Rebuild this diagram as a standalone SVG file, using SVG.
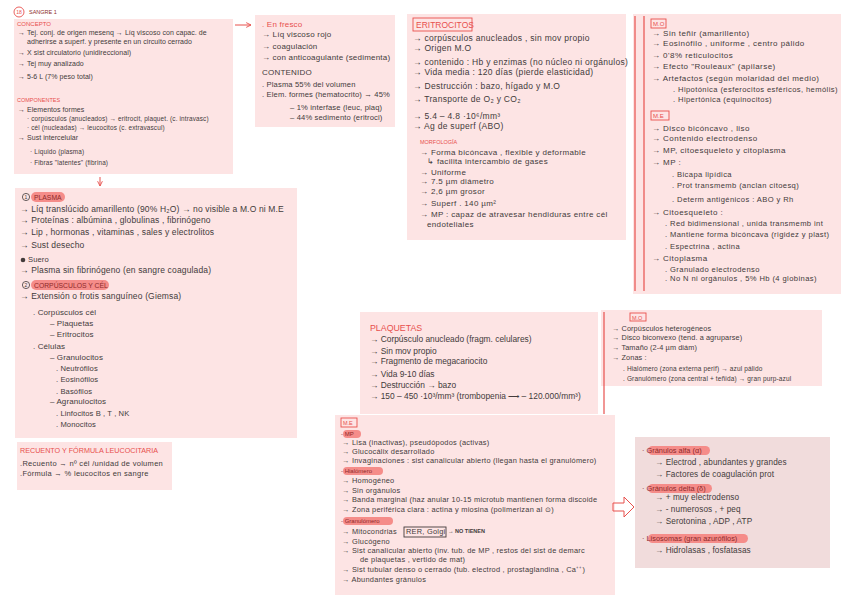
<svg xmlns="http://www.w3.org/2000/svg" width="848" height="600" viewBox="0 0 848 600">
<defs>
<style>
.box{fill:#fde4e4}
.boxj{fill:#f1dcdc}
text{font-family:"Liberation Sans",Arial,sans-serif;fill:#433b3b}
.r{fill:#e8504d}
.dr{fill:#8e2a2a}
.lbl{fill:none;stroke:#e8504d;stroke-width:0.9}
.lbk{fill:none;stroke:#433b3b;stroke-width:0.9}
.pill{fill:#f58c89}
.vl{stroke:#e8504d;stroke-width:1.2}
.a1{font-size:7px;letter-spacing:0.05px}
.a2{font-size:6.4px;letter-spacing:0.15px}
.b1{font-size:8px;letter-spacing:0.2px}
.b2{font-size:7.6px;letter-spacing:0.15px}
.c1{font-size:8.5px;letter-spacing:0.3px}
.c2{font-size:8px;letter-spacing:0.35px}
.d1{font-size:8px;letter-spacing:0.45px}
.d2{font-size:7.6px;letter-spacing:0.4px}
.e1{font-size:8.5px;letter-spacing:0.15px}
.e2{font-size:8px;letter-spacing:0.1px}
.e3{font-size:7.6px;letter-spacing:0.1px}
.f1{font-size:7.5px;letter-spacing:0.3px}
.g1{font-size:8.4px}
.h1{font-size:7.3px;letter-spacing:0.1px}
.h2{font-size:6.5px;letter-spacing:0.15px}
.i1{font-size:7.4px;letter-spacing:0.25px}
.j1{font-size:8.2px;letter-spacing:0.1px}
.f6{font-size:6px}
.f55{font-size:5.5px}
.con{stroke:#e8504d;stroke-width:1;fill:none}
</style>
<marker id="ah" viewBox="0 0 10 10" refX="9" refY="5" markerWidth="6" markerHeight="6" orient="auto">
<path d="M1,1 L9,5 L1,9" fill="none" stroke="#e8504d" stroke-width="1.5"/>
</marker>
</defs>
<rect width="848" height="600" fill="#ffffff"/>

<g id="n-title">
<circle cx="19" cy="12" r="5" fill="none" stroke="#e8504d" stroke-width="0.9"/>
<text x="19" y="14" class="r" font-size="5" text-anchor="middle">18</text>
<text x="29" y="14" class="dr" font-size="5.5">SANGRE 1</text>
</g>

<g id="n-concepto">
<rect class="box" x="14" y="19" width="219" height="155"/>
<text x="17" y="26" class="r" font-size="6">CONCEPTO</text>
<text class="a1" x="18" y="35">→ Tej. conj. de origen mesenq → Líq viscoso con capac. de</text>
<text class="a1" x="27" y="44">adherirse a superf. y presente en un circuito cerrado</text>
<text class="a1" x="18" y="55">→ X sist circulatorio (unidireccional)</text>
<text class="a1" x="18" y="66">→ Tej muy analizado</text>
<text class="a1" x="18" y="79">→ 5-6 L (7% peso total)</text>
<text x="17" y="102" class="r f55">COMPONENTES</text>
<text class="a1" x="18" y="112">→ Elementos formes</text>
<text class="a2" x="27" y="121">· corpúsculos (anucleados) → eritrocit, plaquet. (c. intravasc)</text>
<text class="a2" x="27" y="130">· cél (nucleadas) → leucocitos (c. extravascul)</text>
<text class="a1" x="18" y="140">→ Sust intercelular</text>
<text class="a2" x="30" y="154">· Líquido (plasma)</text>
<text class="a2" x="30" y="165">· Fibras "latentes" (fibrina)</text>
</g>

<g id="n-fresco">
<rect class="box" x="255" y="15" width="140" height="112"/>
<text x="262" y="27" class="r b1">. En fresco</text>
<text class="b1" x="262" y="37">→ Líq viscoso rojo</text>
<text class="b1" x="262" y="49">→ coagulación</text>
<text class="b1" x="262" y="60">→ con anticoagulante (sedimenta)</text>
<text class="b1" x="262" y="75">CONTENIDO</text>
<text class="b2" x="262" y="87">. Plasma 55% del volumen</text>
<text class="b2" x="262" y="97">. Elem. formes (hematocrito) → 45%</text>
<text class="b2" x="290" y="110">– 1% interfase (leuc, plaq)</text>
<text class="b2" x="290" y="120">– 44% sedimento (eritroci)</text>
</g>

<g id="n-eritrocitos">
<rect class="box" x="407" y="14" width="219" height="226"/>
<rect class="lbl" x="413" y="18" width="59" height="13"/>
<text x="416" y="28" class="r" font-size="8.5">ERITROCITOS</text>
<text class="c1" x="413" y="41">→ corpúsculos anucleados , sin mov propio</text>
<text class="c1" x="413" y="51">→ Origen M.O</text>
<text class="c1" x="413" y="65">→ contenido : Hb y enzimas (no núcleo ni orgánulos)</text>
<text class="c1" x="413" y="75">→ Vida media : 120 días (pierde elasticidad)</text>
<text class="c1" x="413" y="89">→ Destrucción : bazo, hígado y M.O</text>
<text class="c1" x="413" y="102">→ Transporte de O₂ y CO₂</text>
<text class="c1" x="413" y="119">→ 5.4 – 4.8 ·10⁶/mm³</text>
<text class="c1" x="413" y="129">→ Ag de superf (ABO)</text>
<text x="420" y="144" class="r f55">MORFOLOGÍA</text>
<text class="c2" x="420" y="155">→ Forma bicóncava , flexible y deformable</text>
<text class="c2" x="427" y="164">↳ facilita intercambio de gases</text>
<text class="c2" x="420" y="175">→ Uniforme</text>
<text class="c2" x="420" y="184">→ 7.5 µm diámetro</text>
<text class="c2" x="420" y="194">→ 2,6 µm grosor</text>
<text class="c2" x="420" y="206">→ Superf . 140 µm²</text>
<text class="c2" x="420" y="217">→ MP : capaz de atravesar hendiduras entre cél</text>
<text class="c2" x="427" y="227">endoteliales</text>
</g>

<g id="n-eritro-micro">
<rect class="box" x="633" y="14" width="208" height="280"/>
<line class="vl" x1="635" y1="16" x2="635" y2="291"/>
<line class="vl" x1="644" y1="16" x2="644" y2="291"/>
<rect class="lbl" x="651" y="19" width="15" height="9"/>
<text x="653" y="26" class="r f6">M.O</text>
<text class="d1" x="652" y="36">→ Sin teñir (amarillento)</text>
<text class="d1" x="652" y="46">→ Eosinófilo , uniforme , centro pálido</text>
<text class="d1" x="652" y="58">→ 0'8% reticulocitos</text>
<text class="d1" x="652" y="69">→ Efecto "Rouleaux" (apilarse)</text>
<text class="d1" x="652" y="81">→ Artefactos (según molaridad del medio)</text>
<text class="d2" x="673" y="92">. Hipotónica (esferocitos esféricos, hemólis)</text>
<text class="d2" x="673" y="102">. Hipertónica (equinocitos)</text>
<rect class="lbl" x="651" y="111" width="18" height="9"/>
<text x="653" y="118" class="r f6">M.E</text>
<text class="d1" x="652" y="131">→ Disco bicóncavo , liso</text>
<text class="d1" x="652" y="141">→ Contenido electrodenso</text>
<text class="d1" x="652" y="153">→ MP, citoesqueleto y citoplasma</text>
<text class="d1" x="652" y="165">→ MP :</text>
<text class="d2" x="672" y="177">. Bicapa lipídica</text>
<text class="d2" x="672" y="188">. Prot transmemb (anclan citoesq)</text>
<text class="d2" x="672" y="202">. Determ antigénicos : ABO y Rh</text>
<text class="d1" x="652" y="215">→ Citoesqueleto :</text>
<text class="d2" x="665" y="226">. Red bidimensional , unida transmemb int</text>
<text class="d2" x="665" y="237">. Mantiene forma bicóncava (rigidez y plast)</text>
<text class="d2" x="665" y="249">. Espectrina , actina</text>
<text class="d1" x="652" y="261">→ Citoplasma</text>
<text class="d2" x="665" y="272">. Granulado electrodenso</text>
<text class="d2" x="665" y="281">. No N ni orgánulos , 5% Hb (4 globinas)</text>
</g>

<g id="n-plasma">
<rect class="box" x="15" y="188" width="282" height="250"/>
<circle cx="26" cy="197" r="3.6" fill="none" stroke="#433b3b" stroke-width="0.8"/>
<text x="26" y="199" font-size="5" text-anchor="middle">1</text>
<rect class="pill" x="31" y="192" width="34" height="10" rx="5"/>
<text x="34" y="200" class="dr" font-size="6.8">PLASMA</text>
<text class="e1" x="20" y="212">→ Líq translúcido amarillento (90% H₂O) → no visible a M.O ni M.E</text>
<text class="e1" x="20" y="223">→ Proteínas : albúmina , globulinas , fibrinógeno</text>
<text class="e1" x="20" y="235">→ Lip , hormonas , vitaminas , sales y electrolitos</text>
<text class="e1" x="20" y="248">→ Sust desecho</text>
<circle cx="23" cy="260" r="2.3" fill="#433b3b"/>
<text class="e3" x="28" y="262">Suero</text>
<text class="e1" x="20" y="273">→ Plasma sin fibrinógeno (en sangre coagulada)</text>
<circle cx="26" cy="285" r="3.6" fill="none" stroke="#433b3b" stroke-width="0.8"/>
<text x="26" y="287" font-size="5" text-anchor="middle">2</text>
<rect class="pill" x="31" y="280" width="78" height="10" rx="5"/>
<text x="34" y="288" class="dr" font-size="6.8">CORPÚSCULOS Y CÉL</text>
<text class="e1" x="20" y="299">→ Extensión o frotis sanguíneo (Giemsa)</text>
<text class="e2" x="33" y="315">. Corpúsculos cél</text>
<text class="e2" x="50" y="326">– Plaquetas</text>
<text class="e2" x="50" y="337">– Eritrocitos</text>
<text class="e2" x="33" y="349">. Células</text>
<text class="e2" x="50" y="360">– Granulocitos</text>
<text class="e3" x="56" y="371">. Neutrófilos</text>
<text class="e3" x="56" y="382">. Eosinófilos</text>
<text class="e3" x="56" y="394">. Basófilos</text>
<text class="e2" x="50" y="404">– Agranulocitos</text>
<text class="e3" x="56" y="416">. Linfocitos B , T , NK</text>
<text class="e3" x="56" y="427">. Monocitos</text>
</g>

<g id="n-recuento">
<rect class="box" x="17" y="442" width="155" height="48"/>
<text x="20" y="453" class="r" font-size="7.2">RECUENTO Y FÓRMULA LEUCOCITARIA</text>
<text class="f1" x="20" y="466">.Recuento → nº cél /unidad de volumen</text>
<text class="f1" x="20" y="476">.Fórmula → % leucocitos en sangre</text>
</g>

<g id="n-plaquetas">
<rect class="box" x="360" y="312" width="238" height="102"/>
<text x="370" y="331" class="r" font-size="8.8">PLAQUETAS</text>
<text class="g1" x="370" y="342">→ Corpúsculo anucleado (fragm. celulares)</text>
<text class="g1" x="370" y="354">→ Sin mov propio</text>
<text class="g1" x="370" y="364">→ Fragmento de megacariocito</text>
<text class="g1" x="370" y="377">→ Vida 9-10 días</text>
<text class="g1" x="370" y="388">→ Destrucción → bazo</text>
<text class="g1" x="370" y="399">→ 150 – 450 ·10³/mm³ (trombopenia ⟶ – 120.000/mm³)</text>
</g>

<g id="n-plaq-mo">
<rect class="box" x="601" y="310" width="221" height="76"/>
<line class="vl" x1="604" y1="312" x2="604" y2="414"/>
<rect class="lbl" x="630" y="313" width="16" height="8"/>
<text x="632" y="319.5" class="r f55">M.O</text>
<text class="h1" x="612" y="331">→ Corpúsculos heterogéneos</text>
<text class="h1" x="612" y="340">→ Disco biconvexo (tend. a agruparse)</text>
<text class="h1" x="612" y="350">→ Tamaño (2-4 µm diám)</text>
<text class="h1" x="612" y="360">→ Zonas :</text>
<text class="h2" x="623" y="371">. Hialómero (zona externa perif) → azul pálido</text>
<text class="h2" x="623" y="381">. Granulómero (zona central + teñida) → gran purp-azul</text>
</g>

<g id="n-plaq-me">
<rect class="box" x="335" y="415" width="280" height="180"/>
<rect class="lbl" x="341" y="418" width="16" height="9"/>
<text x="343" y="425" class="r f55">M.E</text>
<rect class="pill" x="343" y="430" width="18" height="8" rx="4"/>
<text x="341" y="436" class="dr f6">- MP</text>
<text class="i1" x="342" y="445">→ Lisa (inactivas), pseudópodos (activas)</text>
<text class="i1" x="342" y="454">→ Glucocálix desarrollado</text>
<text class="i1" x="342" y="463">→ Invaginaciones : sist canalicular abierto (llegan hasta el granulómero)</text>
<rect class="pill" x="343" y="467" width="40" height="8" rx="4"/>
<text x="341" y="473" class="dr f6">- Hialómero</text>
<text class="i1" x="342" y="483">→ Homogéneo</text>
<text class="i1" x="342" y="493">→ Sin orgánulos</text>
<text class="i1" x="342" y="502">→ Banda marginal (haz anular 10-15 microtub mantienen forma discoide</text>
<text class="i1" x="342" y="512">→ Zona periférica clara : actina y miosina (polimerizan al ⊙)</text>
<rect class="pill" x="343" y="517" width="50" height="8" rx="4"/>
<text x="341" y="523" class="dr f6">- Granulómero</text>
<text class="i1" x="342" y="534">→ Mitocondrias</text>
<rect class="lbk" x="404" y="527" width="42" height="10"/>
<text class="i1" x="406" y="534">RER, Golgi</text>
<text class="f55" x="448" y="533" font-weight="bold">→ NO TIENEN</text>
<text class="i1" x="342" y="544">→ Glucógeno</text>
<text class="i1" x="342" y="553">→ Sist canalicular abierto (inv. tub. de MP , restos del sist de demarc</text>
<text class="i1" x="360" y="562">de plaquetas , vertido de mat)</text>
<text class="i1" x="342" y="572">→ Sist tubular denso o cerrado (tub. electrod , prostaglandina , Ca⁺⁺)</text>
<text class="i1" x="342" y="582">→ Abundantes gránulos</text>
</g>

<g id="n-granulos">
<rect class="boxj" x="635" y="437" width="195" height="131"/>
<rect class="pill" x="648" y="446" width="62" height="9" rx="4.5"/>
<text x="642" y="453" class="dr" font-size="7.4">· Gránulos alfa (α)</text>
<text class="j1" x="655" y="465">→ Electrod , abundantes y grandes</text>
<text class="j1" x="655" y="477">→ Factores de coagulación prot</text>
<rect class="pill" x="648" y="484" width="64" height="9" rx="4.5"/>
<text x="642" y="491" class="dr" font-size="7.4">· Gránulos delta (δ)</text>
<text class="j1" x="655" y="500">→ + muy electrodenso</text>
<text class="j1" x="655" y="512">→ - numerosos , + peq</text>
<text class="j1" x="655" y="524">→ Serotonina , ADP , ATP</text>
<rect class="pill" x="648" y="534" width="100" height="9" rx="4.5"/>
<text x="642" y="541" class="dr" font-size="7.4">· Lisosomas (gran azurófilos)</text>
<text class="j1" x="655" y="553">→ Hidrolasas , fosfatasas</text>
</g>

<g id="connectors">
<line class="con" x1="235" y1="25" x2="251" y2="25" marker-end="url(#ah)"/>
<line class="con" x1="100" y1="177" x2="100" y2="186" marker-end="url(#ah)"/>
<polygon class="con" points="613,503 624,503 624,497 634,507 624,517 624,511 613,511" fill="#ffffff"/>
</g>
</svg>
